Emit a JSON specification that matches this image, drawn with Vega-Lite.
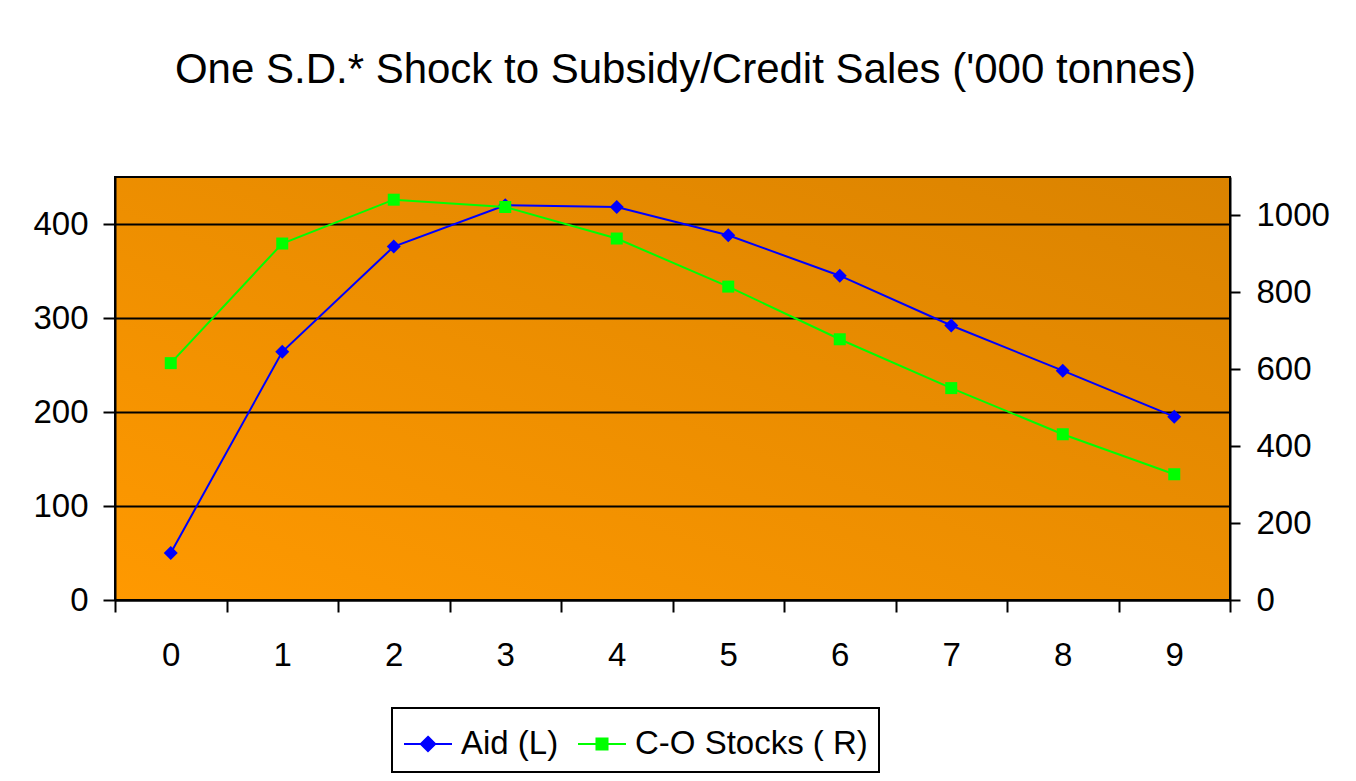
{
  "$schema": "https://vega.github.io/schema/vega-lite/v6.json",
  "width": 1115,
  "height": 423,
  "autosize": "none",
  "padding": {"left": 115, "top": 177, "right": 126, "bottom": 181},
  "background": "white",
  "title": {
    "text": "One S.D.* Shock to Subsidy/Credit Sales ('000 tonnes)",
    "font": "Liberation Sans",
    "fontSize": 42,
    "fontWeight": "normal",
    "color": "black",
    "anchor": "middle",
    "baseline": "alphabetic",
    "offset": 52,
    "dx": 13
  },
  "data": {
    "values": [
      {"period": 0, "aid": 50, "stocks": 616},
      {"period": 1, "aid": 264, "stocks": 927},
      {"period": 2, "aid": 376, "stocks": 1041},
      {"period": 3, "aid": 420, "stocks": 1022},
      {"period": 4, "aid": 418, "stocks": 940},
      {"period": 5, "aid": 388, "stocks": 815},
      {"period": 6, "aid": 345, "stocks": 678},
      {"period": 7, "aid": 292, "stocks": 551},
      {"period": 8, "aid": 244, "stocks": 431},
      {"period": 9, "aid": 195, "stocks": 327}
    ]
  },
  "encoding": {
    "x": {
      "field": "period",
      "type": "ordinal",
      "scale": {"type": "band", "paddingInner": 0, "paddingOuter": 0},
      "axis": {
        "title": null,
        "labelAngle": 0,
        "tickBand": "extent",
        "tickSize": 12,
        "tickWidth": 2,
        "tickColor": "black",
        "domainColor": "black",
        "domainWidth": 2,
        "labelPadding": 27,
        "labelFontSize": 33,
        "labelFont": "Liberation Sans",
        "labelColor": "black",
        "grid": false
      }
    }
  },
  "layer": [
    {
      "encoding": {
        "y": {
          "field": "aid",
          "type": "quantitative",
          "scale": {"domain": [0, 450], "nice": false},
          "axis": {
            "title": null,
            "orient": "left",
            "values": [0, 100, 200, 300, 400],
            "format": "d",
            "grid": true,
            "gridColor": "black",
            "gridWidth": 2,
            "gridOpacity": 1,
            "tickSize": 12,
            "tickWidth": 2,
            "tickColor": "black",
            "domainColor": "black",
            "domainWidth": 2,
            "labelPadding": 15,
            "labelFontSize": 33,
            "labelFont": "Liberation Sans",
            "labelColor": "black"
          }
        },
        "color": {
          "datum": "Aid (L)",
          "type": "nominal",
          "scale": {"domain": ["Aid (L)", "C-O Stocks ( R)"], "range": ["#0000FF", "#00FF00"]},
          "legend": {
            "title": null,
            "orient": "none",
            "legendX": 277,
            "legendY": 531,
            "direction": "horizontal",
            "columns": 2,
            "symbolSize": 2304,
            "symbolStrokeWidth": 2,
            "labelFontSize": 33,
            "labelFont": "Liberation Sans",
            "labelColor": "black",
            "labelLimit": 400,
            "labelOffset": 8,
            "columnPadding": 15,
            "strokeColor": "black",
            "fillColor": "white",
            "padding": 11,
            "encode": {
              "legend": {
                "update": {"strokeWidth": {"value": 2}}
              },
              "symbols": {
                "update": {
                  "shape": {"signal": "datum.value === 'Aid (L)' ? 'M-1,0L1,0M0,-0.3L0.3,0L0,0.3L-0.3,0Z' : 'M-1,0L1,0M-0.23,-0.23L0.23,-0.23L0.23,0.23L-0.23,0.23Z'"},
                  "stroke": {"signal": "datum.value === 'Aid (L)' ? '#0000FF' : '#00FF00'"},
                  "fill": {"signal": "datum.value === 'Aid (L)' ? '#0000FF' : '#00FF00'"},
                  "strokeWidth": {"value": 2},
                  "size": {"value": 2304},
                  "opacity": {"value": 1}
                }
              }
            }
          }
        }
      },
      "layer": [
        {"mark": {"type": "line", "strokeWidth": 2}},
        {"mark": {"type": "point", "shape": "diamond", "filled": true, "size": 196, "opacity": 1}}
      ]
    },
    {
      "encoding": {
        "y": {
          "field": "stocks",
          "type": "quantitative",
          "scale": {"domain": [0, 1100], "nice": false},
          "axis": {
            "title": null,
            "orient": "right",
            "values": [0, 200, 400, 600, 800, 1000],
            "format": "d",
            "grid": false,
            "tickSize": 10,
            "tickWidth": 2,
            "tickColor": "black",
            "domainColor": "black",
            "domainWidth": 2,
            "labelPadding": 16,
            "labelFontSize": 33,
            "labelFont": "Liberation Sans",
            "labelColor": "black"
          }
        },
        "color": {"datum": "C-O Stocks ( R)", "type": "nominal"}
      },
      "layer": [
        {"mark": {"type": "line", "strokeWidth": 2}},
        {"mark": {"type": "point", "shape": "square", "filled": true, "size": 144, "opacity": 1}}
      ]
    }
  ],
  "resolve": {"scale": {"y": "independent"}},
  "config": {
    "view": {
      "stroke": "black",
      "strokeWidth": 2,
      "fill": {
        "gradient": "linear",
        "x1": 0, "y1": 1, "x2": 1, "y2": 0,
        "stops": [
          {"offset": 0, "color": "#FF9900"},
          {"offset": 1, "color": "#DA8300"}
        ]
      }
    }
  }
}
